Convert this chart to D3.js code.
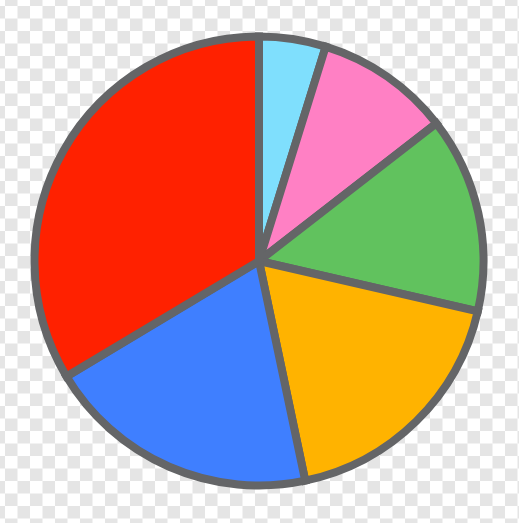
<!DOCTYPE html>
<html>
<head>
<meta charset="utf-8">
<script src="https://cdn.jsdelivr.net/npm/d3@7"></script>
<style>
html,body{margin:0;padding:0;background:#fff;overflow:hidden}
svg{display:block}
</style>
</head>
<body>
<script>
// Data (percent shares, clockwise from 12 o'clock)
const categories = ["Cyan", "Pink", "Green", "Orange", "Blue", "Red"];
const values = [4.8, 9.7, 14.1, 18.1, 19.7, 33.6];
const colors = ["#7fdffd", "#ff80c4", "#61c25e", "#ffb300", "#3f7fff", "#ff2100"];

const W = 519, H = 523;
const cx = 259, cy = 261, R = 224.5;

const svg = d3.select("body").append("svg").attr("width", W).attr("height", H);

// transparency checkerboard background
const defs = svg.append("defs");
const pat = defs.append("pattern")
  .attr("id", "checker")
  .attr("patternUnits", "userSpaceOnUse")
  .attr("width", 25).attr("height", 25)
  .attr("x", 5).attr("y", 6);
pat.append("rect").attr("width", 25).attr("height", 25).attr("fill", "#ffffff");
pat.append("rect").attr("x", 12.5).attr("y", 0).attr("width", 12.5).attr("height", 12.5).attr("fill", "#e5e5e5");
pat.append("rect").attr("x", 0).attr("y", 12.5).attr("width", 12.5).attr("height", 12.5).attr("fill", "#e5e5e5");
svg.append("rect").attr("width", W).attr("height", H).attr("fill", "url(#checker)");

const pie = d3.pie().sort(null).value(d => d.value).startAngle(0).endAngle(2 * Math.PI);
const arc = d3.arc().innerRadius(0).outerRadius(R);
const color = d3.scaleOrdinal().domain(categories).range(colors);

const data = categories.map((c, i) => ({ name: c, value: values[i] }));

const g = svg.append("g").attr("transform", `translate(${cx},${cy})`);
g.selectAll("path.slice")
  .data(pie(data))
  .join("path")
  .attr("class", "slice")
  .attr("d", arc)
  .attr("fill", d => color(d.data.name))
  .attr("stroke", "#646567")
  .attr("stroke-width", 8)
  .attr("stroke-linejoin", "miter");
</script>
</body>
</html>
